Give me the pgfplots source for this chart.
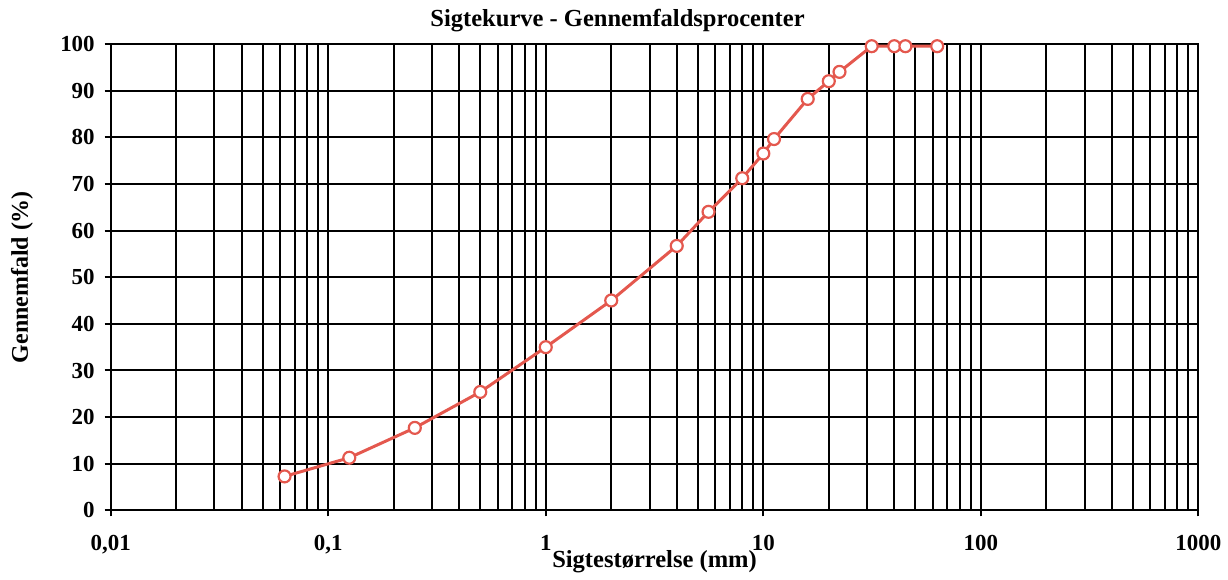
\documentclass[border=0pt]{standalone}
\usepackage{fontspec}
\setmainfont{Liberation Serif}
\usepackage{pgfplots}
\pgfplotsset{compat=1.18}
\definecolor{curvered}{RGB}{228,88,78}
\begin{document}
\begin{tikzpicture}
\begin{axis}[
  name=main,
  scale only axis,
  width=545.5pt, height=234pt,
  xmode=log, log basis x=10,
  xmin=0.01, xmax=1000,
  ymin=0, ymax=100,
  xtick={0.01,0.1,1,10,100,1000},
  xticklabels={{0,01},{0,1},1,10,100,1000},
  minor xtick={0.02,0.03,0.04,0.05,0.06,0.07,0.08,0.09,
               0.2,0.3,0.4,0.5,0.6,0.7,0.8,0.9,
               2,3,4,5,6,7,8,9,
               20,30,40,50,60,70,80,90,
               200,300,400,500,600,700,800,900},
  ytick={0,10,20,30,40,50,60,70,80,90,100},
  xtick pos=left, ytick pos=left,
  tick align=outside,
  major tick length=3pt, minor tick length=0pt,
  grid=both,
  major grid style={black, line width=1pt},
  minor grid style={black, line width=1pt},
  axis line style={black, line width=1pt},
  every tick/.style={black, line width=1pt},
  /pgf/number format/assume math mode=true,
  ticklabel style={font=\bfseries\fontsize{11.5}{13}\selectfont},
  xticklabel style={anchor=base, yshift=-17pt},
  yticklabel style={xshift=-1.5pt},
  title={\bfseries\fontsize{12.3}{14}\selectfont Sigtekurve - Gennemfaldsprocenter},
  title style={at={(axis description cs:0.466,1)}, anchor=base, yshift=2.5pt},
  xlabel={\bfseries\fontsize{12.3}{14}\selectfont Sigtestørrelse (mm)},
  ylabel={\bfseries\fontsize{12}{14}\selectfont Gennemfald (\%)},
  xlabel style={at={(axis description cs:0.5,0)}, anchor=base, yshift=-28.5pt},
  ylabel style={at={(axis description cs:-0.0815,0.5)}, anchor=center},
]
\addplot[curvered, line width=1.5pt, mark=*, mark size=3pt,
  mark options={fill=white, draw=curvered, line width=1.1pt}]
  coordinates {
  (0.063,7.3) (0.125,11.3) (0.25,17.7) (0.5,25.4) (1,35.0) (2,45.0)
  (4,56.7) (5.6,64.0) (8,71.2) (10,76.5) (11.2,79.6) (16,88.2)
  (20,92.0) (22.4,94.0) (31.5,99.5) (40,99.5) (45,99.5) (63,99.5)
  };
\end{axis}
\path ([shift={(-55.5pt,-32.5pt)}]main.south west) rectangle ([shift={(13pt,22pt)}]main.north east);
\end{tikzpicture}
\end{document}
